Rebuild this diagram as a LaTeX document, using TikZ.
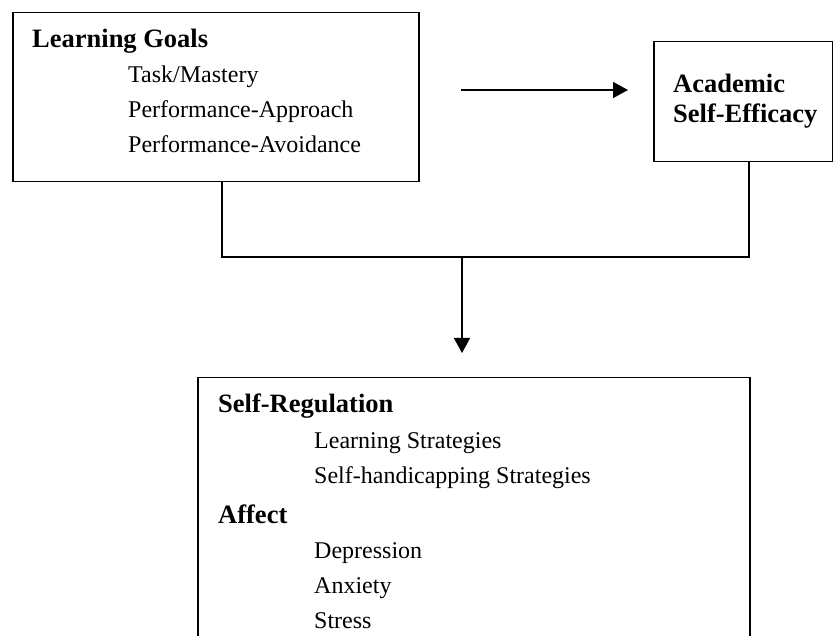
\documentclass[tikz,border=0pt]{standalone}
\usepackage{fontspec}
\setmainfont{Liberation Serif}
\usetikzlibrary{arrows.meta}
\tikzset{
  boxnode/.style={draw=black, line width=1.5pt, rectangle, inner sep=0pt, anchor=north west},
  conn/.style={draw=black, line width=1.5pt},
  arr/.style={conn, -{Triangle[length=15pt, width=16pt]}},
  headtxt/.style={inner sep=0pt, anchor=base west, font=\fontsize{26.5}{30}\selectfont\bfseries},
  itemtxt/.style={inner sep=0pt, anchor=base west, font=\fontsize{24}{28}\selectfont},
}
\begin{document}
\begin{tikzpicture}[x=1pt, y=-1pt]
\path[use as bounding box] (0,0) rectangle (833,636);
\clip (0,0) rectangle (833,636);

% boxes
\node[boxnode, minimum width=406pt, minimum height=169pt] (lg) at (12,12) {};
\node[boxnode, minimum width=178.5pt, minimum height=120pt] (ase) at (653,41) {};
\node[boxnode, minimum width=552pt, minimum height=300pt] (sr) at (197,377) {};

% texts: Learning Goals
\node[headtxt] (lgt) at (32,48) {Learning Goals};
\node[itemtxt] (lg1) at (128,83) {Task/Mastery};
\node[itemtxt] (lg2) at (128,118) {Performance-Approach};
\node[itemtxt] (lg3) at (128,153) {Performance-Avoidance};

% Academic Self-Efficacy
\node[headtxt] (ase1) at (673,93) {Academic};
\node[headtxt] (ase2) at (673,123) {Self-Efficacy};

% Self-Regulation / Affect
\node[headtxt] (srt) at (218,413) {Self-Regulation};
\node[itemtxt] (sr1) at (314,448) {Learning Strategies};
\node[itemtxt] (sr2) at (314,483) {Self-handicapping Strategies};
\node[headtxt] (aft) at (218,523) {Affect};
\node[itemtxt] (af1) at (314,558) {Depression};
\node[itemtxt] (af2) at (314,593) {Anxiety};
\node[itemtxt] (af3) at (314,628) {Stress};

% connectors
\coordinate (hs) at (461,90);
\coordinate (he) at (628,90);
\draw[arr] (hs) -- (he);

\coordinate (jl) at (222,257);
\coordinate (jr) at (749,257);
\coordinate (jm) at (462,257);
\coordinate (ve) at (462,353);
\draw[conn] (lg.south -| jl) -- (jl) -- (jr) -- (ase.south -| jr);
\draw[arr] (jm) -- (ve);
\end{tikzpicture}
\end{document}
